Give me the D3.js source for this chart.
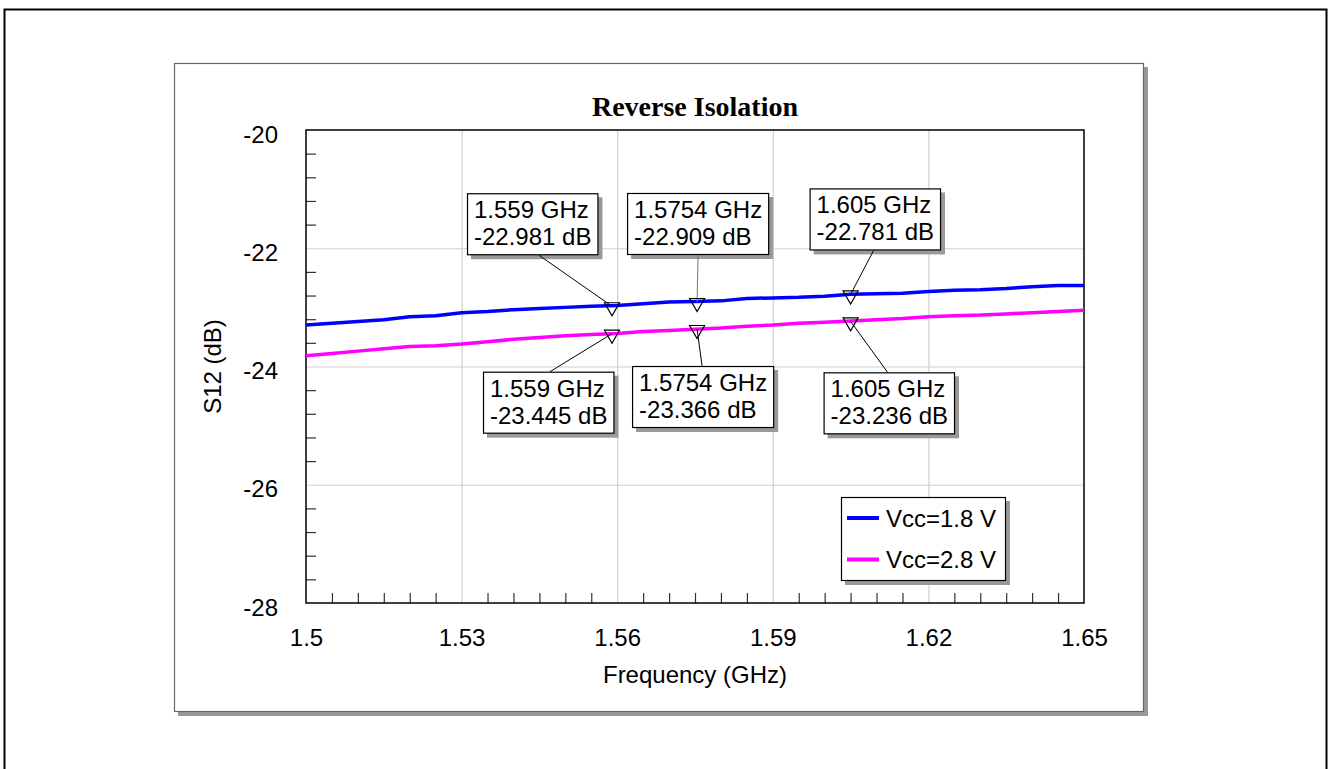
<!DOCTYPE html>
<html>
<head>
<meta charset="utf-8">
<script src="https://cdn.jsdelivr.net/npm/d3@7"></script>
<style>
  body { margin: 0; background: #fff; }
  svg { display: block; }
  text { fill: #000; }
</style>
</head>
<body>
<svg id="chart" width="1331" height="769" font-family="Liberation Sans, Arial, sans-serif"></svg>
<script>

// data
var freq = [1.500,1.505,1.510,1.515,1.520,1.525,1.530,1.535,1.540,1.545,1.550,1.555,1.560,1.565,1.570,1.575,1.580,1.585,1.590,1.595,1.600,1.605,1.610,1.615,1.620,1.625,1.630,1.635,1.640,1.645,1.650]
var s12_18 = [-23.30,-23.27,-23.24,-23.21,-23.16,-23.14,-23.09,-23.07,-23.04,-23.02,-23.00,-22.98,-22.97,-22.94,-22.91,-22.90,-22.89,-22.85,-22.84,-22.83,-22.81,-22.78,-22.77,-22.76,-22.73,-22.71,-22.70,-22.68,-22.65,-22.63,-22.63]
var s12_28 = [-23.82,-23.78,-23.74,-23.70,-23.66,-23.65,-23.62,-23.58,-23.54,-23.51,-23.48,-23.46,-23.44,-23.41,-23.39,-23.37,-23.35,-23.32,-23.30,-23.27,-23.25,-23.23,-23.21,-23.19,-23.16,-23.14,-23.13,-23.11,-23.09,-23.07,-23.05]

var seriesNames = ["Vcc=1.8 V", "Vcc=2.8 V"]
var seriesColors = ["#0000ff", "#ff00ff"]

var markerFreq = [1.559, 1.5754, 1.605]
var markerVal18 = [-22.981, -22.909, -22.781]
var markerVal28 = [-23.445, -23.366, -23.236]

var xTicks = [1.5, 1.53, 1.56, 1.59, 1.62, 1.65]
var xTickLabels = ["1.5", "1.53", "1.56", "1.59", "1.62", "1.65"]
var yTicks = [-28, -26, -24, -22, -20]
var yTickLabels = ["-28", "-26", "-24", "-22", "-20"]

// box offsets from the marked point (layout only)
var boxOffset = [
  {dx:-145, dy:-113, ax:-73},  {dx:-70, dy:-109, ax:1},  {dx:-41, dy:-106, ax:23},
  {dx:-129, dy:38, ax:-62},    {dx:-65, dy:37, ax:5},    {dx:-27, dy:51, ax:37}
]

var FS = 24

var svg = d3.select("#chart")

// outer frame
svg.append("rect").attr("x",4.5).attr("y",9.5).attr("width",1322).attr("height",780)
  .attr("fill","none").attr("stroke","#000").attr("stroke-width",2)

// panel with shadow
svg.append("rect").attr("x",178).attr("y",67).attr("width",970).attr("height",649).attr("fill","#999")
svg.append("rect").attr("x",174.5).attr("y",63.5).attr("width",969).attr("height",648)
  .attr("fill","#fff").attr("stroke","#666").attr("stroke-width",1.2)

var L = 306, R = 1084, T = 130, B = 603

var x = d3.scaleLinear().domain([1.5, 1.65]).range([L, R])
var y = d3.scaleLinear().domain([-28, -20]).range([B, T])

// grid
svg.append("g").attr("transform","translate(0,"+B+")")
  .call(d3.axisBottom(x).tickValues(xTicks.slice(1,-1)).tickSize(-(B-T)).tickFormat(""))
  .call(g=>g.select(".domain").remove())
  .selectAll("line").attr("stroke","#d0d0d0").attr("stroke-width",1.2)
svg.append("g").attr("transform","translate("+L+",0)")
  .call(d3.axisLeft(y).tickValues(yTicks.slice(1,-1)).tickSize(-(R-L)).tickFormat(""))
  .call(g=>g.select(".domain").remove())
  .selectAll("line").attr("stroke","#d0d0d0").attr("stroke-width",1.2)

// minor ticks, pointing inward
var minorX = d3.range(1.5, 1.6501, 0.005).filter(v=>Math.abs((v-1.5)/0.03-Math.round((v-1.5)/0.03))>1e-6)
var minorY = d3.range(-28, -19.99, 0.4).filter(v=>Math.abs(v/2-Math.round(v/2))>1e-6)

svg.append("g").attr("transform","translate(0,"+B+")")
  .call(d3.axisBottom(x).tickValues(minorX).tickSize(-10).tickFormat(""))
  .call(g=>g.select(".domain").remove())
  .selectAll("line").attr("stroke","#333").attr("stroke-width",1.2)
svg.append("g").attr("transform","translate("+L+",0)")
  .call(d3.axisLeft(y).tickValues(minorY).tickSize(-10).tickFormat(""))
  .call(g=>g.select(".domain").remove())
  .selectAll("line").attr("stroke","#333").attr("stroke-width",1.2)

// tick labels
svg.append("g").attr("transform","translate(0,"+B+")")
  .call(d3.axisBottom(x).tickValues(xTicks).tickSize(0).tickPadding(26).tickFormat((d,i)=>xTickLabels[i]))
  .call(g=>g.select(".domain").remove())
  .selectAll("text").attr("font-size",FS).attr("font-family","Liberation Sans, Arial, sans-serif")
svg.append("g").attr("transform","translate("+L+",0)")
  .call(d3.axisLeft(y).tickValues(yTicks).tickSize(0).tickPadding(28).tickFormat((d,i)=>yTickLabels[i]))
  .call(g=>g.select(".domain").remove())
  .selectAll("text").attr("font-size",FS).attr("dy","0.5em").attr("font-family","Liberation Sans, Arial, sans-serif")

// plot frame
svg.append("rect").attr("x",L).attr("y",T).attr("width",R-L).attr("height",B-T)
  .attr("fill","none").attr("stroke","#000").attr("stroke-width",1.5)

// curves
var line = d3.line().x(d=>x(d[0])).y(d=>y(d[1]))
;[s12_18, s12_28].forEach((vals,i)=>{
  svg.append("path").datum(freq.map((f,j)=>[f, vals[j]]))
    .attr("d", line).attr("fill","none")
    .attr("stroke", seriesColors[i]).attr("stroke-width",3.5)
})

// markers
var markers = []
markerFreq.forEach((f,i)=>markers.push({f:f, v:markerVal18[i]}))
markerFreq.forEach((f,i)=>markers.push({f:f, v:markerVal28[i]}))

markers.forEach((m,i)=>{
  var px = x(m.f), py = y(m.v), o = boxOffset[i]
  var bx = px + o.dx, by = py + o.dy
  var g = svg.append("g")
  var t1 = g.append("text").attr("x",bx+7).attr("y",by+25).attr("font-size",FS).text(m.f+" GHz")
  var t2 = g.append("text").attr("x",bx+7).attr("y",by+52).attr("font-size",FS).text(m.v.toFixed(3)+" dB")
  var w = Math.max(t1.node().getComputedTextLength(), t2.node().getComputedTextLength()) + 13
  g.insert("rect","text").attr("x",bx+0.5).attr("y",by+0.5).attr("width",w).attr("height",61)
    .attr("fill","#fff").attr("stroke","#000").attr("stroke-width",1.2)
  g.insert("rect","rect").attr("x",bx+4).attr("y",by+4).attr("width",w+1).attr("height",62).attr("fill","#999")
  var ay = o.dy < 0 ? by + 62 : by
  svg.append("line").attr("x1",px+o.ax).attr("y1",ay).attr("x2",px).attr("y2",py)
    .attr("stroke", i==1 ? "#777" : "#000").attr("stroke-width",1)
  svg.append("path")
    .attr("d","M"+(px-7.5)+","+(py-3.5)+"L"+(px+7.5)+","+(py-3.5)+"L"+px+","+(py+9.5)+"Z")
    .attr("fill","none").attr("stroke","#000").attr("stroke-width",1.2)
})

// legend
var lg = svg.append("g")
lg.append("rect").attr("x",845).attr("y",501).attr("width",165).attr("height",84).attr("fill","#999")
lg.append("rect").attr("x",841.5).attr("y",497.5).attr("width",164).attr("height",83)
  .attr("fill","#fff").attr("stroke","#000").attr("stroke-width",1.2)
seriesNames.forEach((n,i)=>{
  var ly = 518 + i*41.5
  lg.append("line").attr("x1",847).attr("x2",879).attr("y1",ly).attr("y2",ly)
    .attr("stroke",seriesColors[i]).attr("stroke-width",4)
  lg.append("text").attr("x",886).attr("y",ly+8.5).attr("font-size",FS).text(n)
})

// titles
svg.append("text").attr("x",(L+R)/2).attr("y",116).attr("text-anchor","middle")
  .style("font-family","'Liberation Serif', 'Times New Roman', serif").attr("font-weight","bold")
  .attr("font-size",28).text("Reverse Isolation")
svg.append("text").attr("x",(L+R)/2).attr("y",683).attr("text-anchor","middle")
  .attr("font-size",FS).text("Frequency (GHz)")
svg.append("text").attr("transform","translate(221,"+((T+B)/2)+") rotate(-90)")
  .attr("text-anchor","middle").attr("font-size",FS).text("S12 (dB)")

</script>
</body>
</html>
